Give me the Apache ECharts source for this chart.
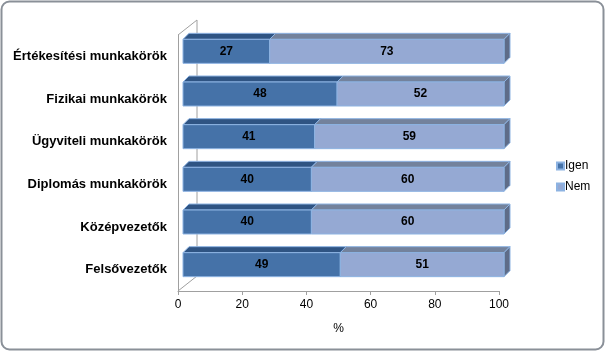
<!DOCTYPE html>
<html>
<head>
<meta charset="utf-8">
<script src="https://cdn.jsdelivr.net/npm/echarts@6/dist/echarts.min.js"></script>
<style>
  html, body { margin: 0; padding: 0; background: #fff; }
  #chart { width: 608px; height: 353px; }
</style>
</head>
<body>
<div id="chart"></div>
<script>
// adatok (felülről lefelé)
var categories = [
  "Értékesítési munkakörök",
  "Fizikai munkakörök",
  "Ügyviteli munkakörök",
  "Diplomás munkakörök",
  "Középvezetők",
  "Felsővezetők"
];
var igen = [27, 48, 41, 40, 40, 49];
var nem = [73, 52, 59, 60, 60, 51];
var xTicks = [0, 20, 40, 60, 80, 100];

var chart = echarts.init(document.getElementById("chart"));

// 3D hasáb: elülső lap + teteje + oldala
function bar3d(front, top, side) {
  return function (params, api) {
    var s = api.value(0), e = api.value(1), c = api.value(2);
    var p0 = api.coord([s, c]);
    var p1 = api.coord([e, c]);
    var bh = 24, dx = 5, dy = -5, d = 6;
    var x0 = p0[0] + dx, x1 = p1[0] + dx;
    var yt = p0[1] + dy - bh / 2, yb = yt + bh;
    var edge = "#8db3e2";
    return {
      type: "group",
      children: [
        {
          type: "polygon",
          shape: { points: [[x0, yt], [x1, yt], [x1 + d, yt - d], [x0 + d, yt - d]] },
          style: { fill: top, stroke: edge, lineWidth: 1 }
        },
        {
          type: "polygon",
          shape: { points: [[x1, yt], [x1 + d, yt - d], [x1 + d, yb - d], [x1, yb]] },
          style: { fill: side, stroke: edge, lineWidth: 1 }
        },
        {
          type: "rect",
          shape: { x: x0, y: yt, width: x1 - x0, height: bh },
          style: { fill: front, stroke: edge, lineWidth: 1 }
        },
        {
          type: "text",
          style: {
            text: String(api.value(3)),
            x: (x0 + x1) / 2, y: (yt + yb) / 2,
            align: "center", verticalAlign: "middle",
            font: "bold 12px Arial, 'Liberation Sans', sans-serif",
            fill: "#000"
          }
        }
      ]
    };
  };
}

var igenData = igen.map(function (v, i) { return [0, v, i, v]; });
var nemData = nem.map(function (v, i) { return [igen[i], igen[i] + v, i, v]; });

var option = {
  animation: false,
  backgroundColor: "#fff",
  textStyle: { fontFamily: "Arial, 'Liberation Sans', sans-serif" },
  grid: { left: 178, top: 35, width: 321, bottom: 62 },
  legend: {
    orient: "vertical",
    left: 551,
    top: 155,
    itemWidth: 7,
    itemHeight: 7,
    itemGap: 9,
    icon: "rect",
    textStyle: { fontSize: 12, color: "#000", padding: [0, 0, 0, -4] },
    data: ["Igen", "Nem"]
  },
  xAxis: {
    type: "value",
    min: 0,
    max: 100,
    interval: 20,
    name: "%",
    nameLocation: "middle",
    nameGap: 32,
    nameTextStyle: { fontSize: 12, color: "#000" },
    axisLine: { show: true, lineStyle: { color: "#a0a0a0", width: 1 } },
    axisTick: { show: true, length: 4, lineStyle: { color: "#a0a0a0" } },
    axisLabel: {
      fontSize: 12, color: "#000", margin: 8,
      formatter: function (v) { return xTicks.indexOf(v) >= 0 ? String(v) : ""; }
    },
    splitLine: { show: false }
  },
  yAxis: {
    type: "category",
    inverse: true,
    data: categories,
    axisLine: { show: true, lineStyle: { color: "#a0a0a0", width: 1 } },
    axisTick: { show: false },
    axisLabel: { fontSize: 13, fontWeight: "bold", color: "#000", margin: 11 }
  },
  series: [
    {
      name: "Igen",
      type: "custom",
      itemStyle: { color: "#4572a8", borderColor: "#8db3e2", borderWidth: 1 },
      encode: { x: [0, 1], y: 2 },
      renderItem: bar3d("#4572a8", "#2f5483", "#3c5a80"),
      data: igenData
    },
    {
      name: "Nem",
      type: "custom",
      itemStyle: { color: "#95a9d3", borderColor: "#8db3e2", borderWidth: 1 },
      encode: { x: [0, 1], y: 2 },
      renderItem: bar3d("#95a9d3", "#73829c", "#5e6c88"),
      data: nemData
    }
  ]
};
chart.setOption(option);

// oldalfal és padló vonalai, a rács sarkaiból számolva
var gridModel = chart.getModel().getComponent("grid", 0);
var rect = gridModel.coordinateSystem.getRect();
var D = [19, -15];
var xl = rect.x, yt = rect.y, yb = rect.y + rect.height;
chart.setOption({
  graphic: [
    {
      type: "polyline", z: 0, silent: true,
      shape: { points: [[xl, yt], [xl + D[0], yt + D[1]], [xl + D[0], yb + D[1]], [xl, yb]] },
      style: { stroke: "#a0a0a0", lineWidth: 1, fill: null }
    },
    {
      type: "rect", z: 100, silent: true,
      shape: { x: 1.5, y: 1.5, width: 602, height: 348, r: 8 },
      style: { stroke: "#8a9098", lineWidth: 2, fill: null }
    }
  ]
});
</script>
</body>
</html>
